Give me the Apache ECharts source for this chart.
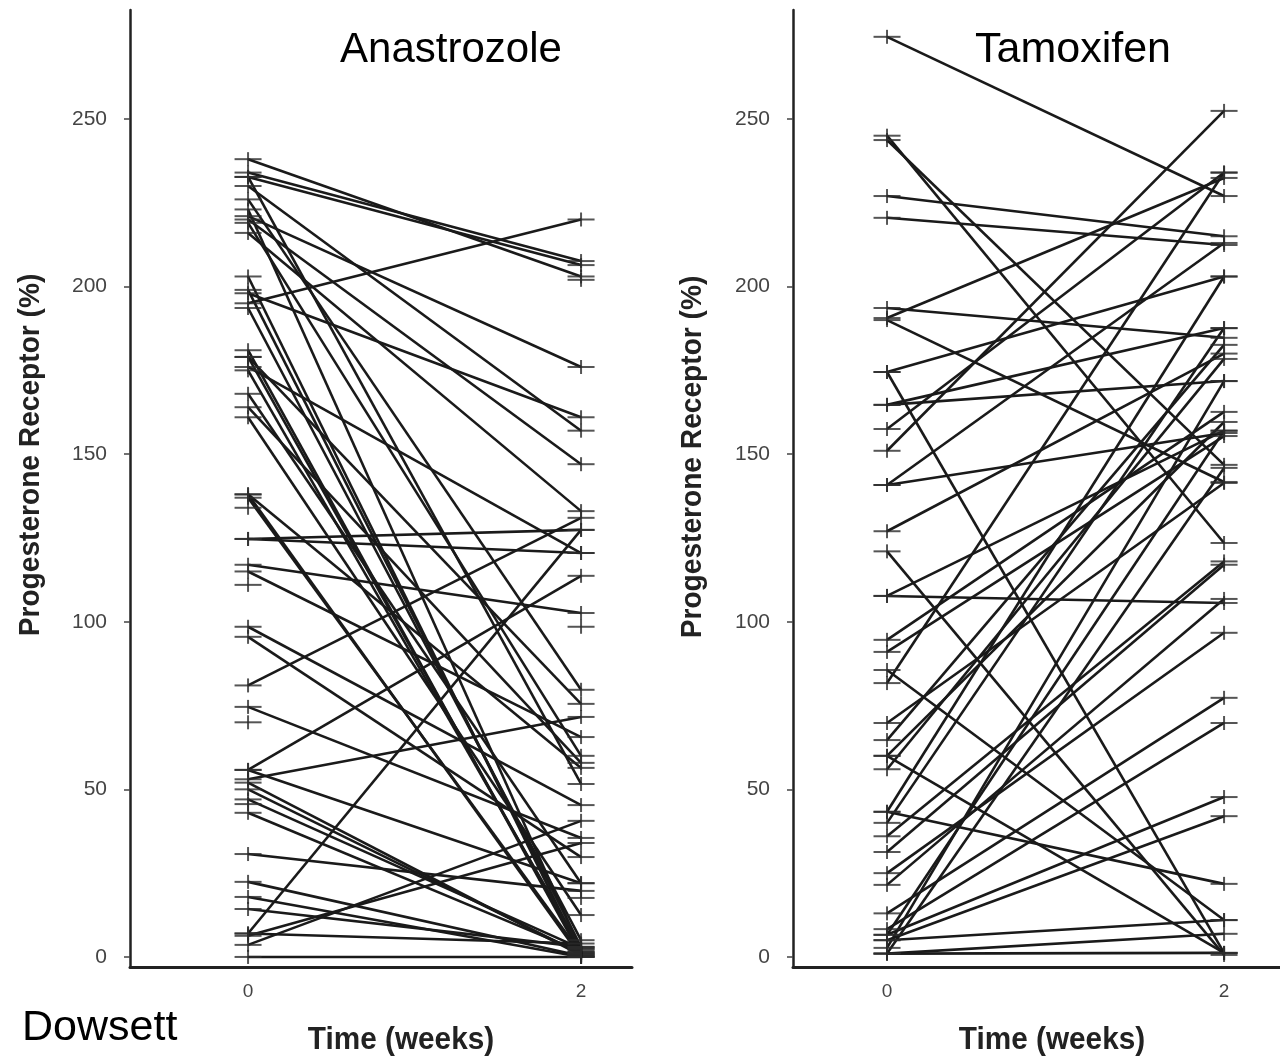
<!DOCTYPE html>
<html>
<head>
<meta charset="utf-8">
<script src="https://cdn.jsdelivr.net/npm/echarts@6/dist/echarts.min.js"></script>
<style>
  html, body { margin: 0; padding: 0; background: #fff; }
  #chart { width: 1280px; height: 1057px; }
</style>
</head>
<body>
<div id="chart"></div>
<script>
// Progesterone receptor (%) per patient at baseline (week 0) and week 2.
// Paired arrays: index i of *Week0 belongs with index i of *Week2.
const anaWeek0 = [238, 234, 232.7, 232.7, 230, 226, 223, 221, 220, 219, 216, 203, 199, 198, 195, 193.6,
  181, 179, 179, 176, 175, 168, 164, 161, 138, 138, 137, 124.7, 124.7, 117, 115, 98.5, 95.5, 81,
  74.6, 55.8, 55.8, 53, 52, 50, 47, 43, 30.7, 22.4, 17.9, 14.3, 7, 7, 6.3, 3.6, 0];
const anaWeek2 = [203, 207.6, 206.4, 51.6, 157, 79.7, 2, 176, 147, 60, 133, 1, 3, 161, 220, 5,
  0.5, 1.5, 75.5, 120.5, 2.5, 22, 57.9, 12.5, 0, 56.4, 1, 127.4, 120.5, 102.6, 65.6, 45.3, 29.8, 131,
  35.5, 113.7, 22, 71.6, 0.5, 1, 2.5, 1.5, 19.7, 0.3, 0, 3, 127.4, 4, 34, 40.6, 0];
// Readings with no connecting line
const anaOnly0 = [134, 111, 70, 45.6];
const anaOnly2 = [202, 98.5, 17.6];

const tamWeek0 = [274.5, 245, 243.7, 227, 220.5, 193.6, 190.6, 190, 174.5, 174.5, 164.7, 164.7,
  157.5, 151, 140.8, 140.8, 127, 121, 107.7, 107.7, 94.6, 91, 85.6, 81.7, 69.8, 64.7, 60, 60, 56,
  43.3, 43.3, 40, 36, 31.3, 25, 21.5, 13, 8.3, 6.6, 6.6, 5, 5, 2.7, 1, 1, 1];
const tamWeek2 = [227, 123.5, 146.8, 215, 212.4, 184.7, 232.4, 141.7, 203, 1.2, 187.6, 171.8,
  234, 252.4, 213, 156.3, 180, 0.6, 157, 105.6, 162.6, 155.4, 11, 234, 141.4, 182.6, 159.6, 1.2, 178.4,
  203, 21.8, 187.6, 118, 117, 96.7, 106.8, 77.3, 69.8, 47.7, 157, 42, 11, 171.8, 6.9, 1.2, 145.9];
const tamOnly0 = [];
const tamOnly2 = [];

const timeTicks = [0, 2];
const prTicks = [0, 50, 100, 150, 200, 250];

const LINE = '#1a1a1a';
const MARK = '#2a2a2a';
const tickFont = 'Liberation Sans, Arial, sans-serif';
const nameFont = 'Liberation Sans, Arial, sans-serif';

function panelSeries(idx, w0, w2, only0, only2) {
  const out = [];
  for (let i = 0; i < w0.length; i++) {
    out.push({
      type: 'line', xAxisIndex: idx, yAxisIndex: idx, silent: true, animation: false,
      symbol: 'none', data: [[0, w0[i]], [2, w2[i]]],
      lineStyle: { color: LINE, width: 2.6 }, z: 3
    });
  }
  const pts = [];
  w0.forEach(v => pts.push([0, v]));
  w2.forEach(v => pts.push([2, v]));
  only0.forEach(v => pts.push([0, v]));
  only2.forEach(v => pts.push([2, v]));
  // cross marks: one horizontal and one vertical bar per reading
  out.push({
    type: 'scatter', xAxisIndex: idx, yAxisIndex: idx, silent: true, animation: false,
    symbol: 'rect', symbolSize: [27, 2], data: pts, itemStyle: { color: MARK }, z: 4
  });
  out.push({
    type: 'scatter', xAxisIndex: idx, yAxisIndex: idx, silent: true, animation: false,
    symbol: 'rect', symbolSize: [2, 14], data: pts, itemStyle: { color: MARK }, z: 4
  });
  return out;
}

function xAxisDef(idx, min, max) {
  return {
    type: 'value', gridIndex: idx, min: min, max: max,
    splitLine: { show: false },
    axisLine: { show: true, onZero: false, lineStyle: { color: '#222', width: 3 } },
    axisTick: { show: false },
    axisLabel: { customValues: timeTicks, fontSize: 19, color: '#444', fontFamily: tickFont, margin: 15 }
  };
}
function yAxisDef(idx) {
  return {
    type: 'value', gridIndex: idx, min: -3, max: 282.5,
    splitLine: { show: false },
    axisLine: { show: true, onZero: false, lineStyle: { color: '#222', width: 2.5 } },
    axisTick: { show: true, customValues: prTicks, length: 6, lineStyle: { color: '#444', width: 1.5 } },
    axisLabel: { customValues: prTicks, fontSize: 21, color: '#444', fontFamily: tickFont, margin: 23 }
  };
}

const chart = echarts.init(document.getElementById('chart'), null, { renderer: 'canvas' });
chart.setOption({
  backgroundColor: '#fff',
  animation: false,
  grid: [
    { left: 130, top: 10, width: 502, bottom: 90 },
    { left: 793, top: 10, width: 487, bottom: 90 }
  ],
  xAxis: [xAxisDef(0, -0.709, 2.306), xAxisDef(1, -0.558, 2.332)],
  yAxis: [yAxisDef(0), yAxisDef(1)],
  series: [].concat(
    panelSeries(0, anaWeek0, anaWeek2, anaOnly0, anaOnly2),
    panelSeries(1, tamWeek0, tamWeek2, tamOnly0, tamOnly2)
  ),
  graphic: [
    { type: 'text', x: 451, y: 50,
      style: { text: 'Anastrozole', fontSize: 42, fill: '#000', fontFamily: 'Liberation Sans, Arial, sans-serif', textAlign: 'center', textVerticalAlign: 'middle' } },
    { type: 'text', x: 1073, y: 50,
      style: { text: 'Tamoxifen', fontSize: 43, fill: '#000', fontFamily: 'Liberation Sans, Arial, sans-serif', textAlign: 'center', textVerticalAlign: 'middle' } },
    { type: 'text', x: 22, y: 1028,
      style: { text: 'Dowsett', fontSize: 43, fill: '#000', fontFamily: 'Liberation Sans, Arial, sans-serif', textAlign: 'left', textVerticalAlign: 'middle' } },
    { type: 'text', x: 31, y: 455, rotation: Math.PI / 2, scaleX: 0.97,
      style: { text: 'Progesterone Receptor (%)', fontSize: 29, fontWeight: 'bold', fill: '#222', fontFamily: nameFont, textAlign: 'center', textVerticalAlign: 'middle' } },
    { type: 'text', x: 693, y: 457, rotation: Math.PI / 2, scaleX: 0.97,
      style: { text: 'Progesterone Receptor (%)', fontSize: 29, fontWeight: 'bold', fill: '#222', fontFamily: nameFont, textAlign: 'center', textVerticalAlign: 'middle' } },
    { type: 'text', x: 401, y: 1040, scaleX: 0.93,
      style: { text: 'Time (weeks)', fontSize: 32, fontWeight: 'bold', fill: '#222', fontFamily: nameFont, textAlign: 'center', textVerticalAlign: 'middle' } },
    { type: 'text', x: 1052, y: 1040, scaleX: 0.93,
      style: { text: 'Time (weeks)', fontSize: 32, fontWeight: 'bold', fill: '#222', fontFamily: nameFont, textAlign: 'center', textVerticalAlign: 'middle' } }
  ]
});
</script>
</body>
</html>
